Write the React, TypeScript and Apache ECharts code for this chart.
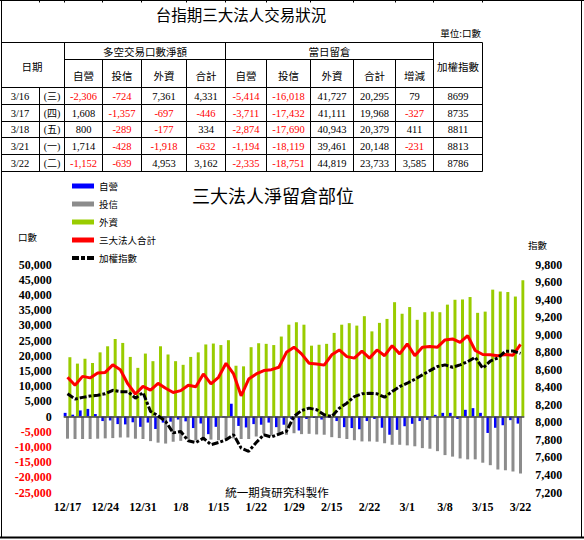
import React, { useEffect, useRef } from "react";
import * as echarts from "echarts";

// ---------- chart data (net open interest, 口數) ----------
const categories = [
  "12/17", "12/20", "12/21", "12/22", "12/23", "12/24", "12/27", "12/28", "12/29", "12/30",
  "12/31", "1/4", "1/5", "1/6", "1/7", "1/8", "1/11", "1/12", "1/13", "1/14",
  "1/15", "1/18", "1/19", "1/20", "1/21", "1/22", "1/25", "1/26", "1/27", "1/28",
  "1/29", "2/9", "2/10", "2/11", "2/14", "2/15", "2/16", "2/17", "2/18", "2/21",
  "2/22", "2/23", "2/24", "2/25", "2/28", "3/1", "3/2", "3/3", "3/4", "3/7",
  "3/8", "3/9", "3/10", "3/11", "3/14", "3/15", "3/16", "3/17", "3/18", "3/21",
  "3/22",
];
const dealerOI = [
  1200, 600, 2000, 2500, 800, -1500, -1300, -2500, -2600, -1900,
  -3400, -2000, -4100, -2000, -1700, -1000, -1600, -3800, -2300, -5800,
  -3400, -300, 4200, -3100, -3600, -2500, -2700, -2000, -3500, -2700,
  -800, -4600, -800, -500, -1000, -500, -1500, -3500, -3800, -4200,
  -1500, -800, -3700, -6000, -4400, -3200, -2400, -1500, -1100, 550,
  1200, 1200, -800, 2200, 2750, 1200, -5414, -3711, -2874, -1194,
  -2335,
];
const trustOI = [
  -7300, -7400, -7400, -7400, -7300, -7200, -7100, -6900, -6900, -7300,
  -7400, -8100, -8600, -8900, -8300, -8000, -7500, -7800, -7900, -7600,
  -7800, -7500, -7200, -7400, -7400, -6600, -5500, -6200, -6200, -6000,
  -5500, -5800, -5700, -5900, -6000, -6800, -7100, -7400, -7800, -8200,
  -8200, -8300, -8800, -9300, -9300, -9500, -9800, -10400, -10600, -11400,
  -12700, -13200, -13800, -14100, -14100, -15200, -16018, -17432, -17690, -18119,
  -18751,
];
const foreignOI = [
  19500, 17400, 19000, 17600, 21100, 23100, 25500, 24200, 19600, 16000,
  20700, 18200, 23100, 20400, 18200, 17000, 19600, 21100, 23700, 24000,
  23500, 25100, 16700, 16500, 22800, 24100, 23900, 23500, 26300, 30200,
  31000, 30200, 23300, 23600, 23900, 27500, 30200, 30700, 29900, 33000,
  28000, 30800, 32100, 37600, 33800, 36000, 31800, 34300, 34500, 34300,
  36800, 38400, 38500, 39300, 34100, 34500, 41727, 41111, 40943, 39461,
  44819,
];
const totalOI = [
  12900, 10300, 13200, 12700, 14300, 14500, 17000, 15400, 10700, 7400,
  9900, 8700, 10900, 9300, 7900, 8500, 10300, 9800, 14000, 10700,
  12900, 17500, 14000, 6800, 12300, 14000, 15100, 15400, 16200, 21100,
  22800, 20600, 17500, 17300, 16900, 20300, 21900, 19700, 19200, 21500,
  19200, 21900, 20000, 23300, 20600, 23900, 20000, 22800, 23000, 22800,
  25200, 25500, 24400, 26600, 21700, 20400, 20295, 19968, 20379, 20148,
  23733,
];
const indexValues = [
  8325, 8265, 8285, 8300, 8310, 8325, 8365, 8350, 8350, 8275,
  8340, 8124, 8075, 8010, 7880, 7895, 7790, 7770, 7820, 7745,
  7770, 7802, 7859, 7707, 7670, 7770, 7859, 7832, 7866, 7897,
  8067, 8135, 8162, 8143, 8086, 8067, 8162, 8219, 8294, 8325,
  8332, 8325, 8287, 8351, 8408, 8446, 8492, 8541, 8590, 8636,
  8655, 8628, 8655, 8693, 8742, 8617, 8699, 8735, 8811, 8813,
  8786,
];

// ---------- table data ----------
const tableDates = ["3/16", "3/17", "3/18", "3/21", "3/22"];
const tableWeekdays = ["(三)", "(四)", "(五)", "(一)", "(二)"];
const tradeDealer = [-2306, 1608, 800, 1714, -1152];
const tradeTrust = [-724, -1357, -289, -428, -639];
const tradeForeign = [7361, -697, -177, -1918, 4953];
const tradeTotal = [4331, -446, 334, -632, 3162];
const oiDealer = [-5414, -3711, -2874, -1194, -2335];
const oiTrust = [-16018, -17432, -17690, -18119, -18751];
const oiForeign = [41727, 41111, 40943, 39461, 44819];
const oiTotal = [20295, 19968, 20379, 20148, 23733];
const oiChange = [79, -327, 411, -231, 3585];
const tableIndex = [8699, 8735, 8811, 8813, 8786];
const subHeaders = ["自營", "投信", "外資", "合計", "自營", "投信", "外資", "合計", "增減"];

const CJK = '"Noto Sans CJK TC", "Noto Sans CJK SC", sans-serif';
const SERIF = '"Liberation Serif", "Times New Roman", serif';

const fmt = (v: number) => v.toLocaleString("en-US");

function txt(x: number, y: number, text: string, fontSize: number, family: string, fill = "#000", align = "center", weight = "normal") {
  return {
    type: "text",
    x,
    y,
    silent: true,
    style: {
      text,
      fill,
      fontSize,
      fontFamily: family,
      fontWeight: weight,
      textAlign: align,
      textVerticalAlign: "middle",
      align,
      verticalAlign: "middle",
    },
  };
}
function ln(x1: number, y1: number, x2: number, y2: number, w = 1) {
  return {
    type: "line",
    silent: true,
    shape: { x1, y1, x2, y2 },
    style: { stroke: "#000", lineWidth: w },
  };
}

function buildGraphic() {
  const els: any[] = [];
  const colX = [0, 39.5, 64.5, 102.5, 141.5, 186.5, 225.5, 266.5, 310.5, 353.5, 395.5, 433.5, 482.5];
  const rowY = [87.5, 104.5, 121.5, 137.5, 154.5, 171.5];
  // outer frame
  els.push(ln(0, 0.5, 584, 0.5));
  els.push(ln(1.5, 0, 1.5, 538));
  els.push(ln(581.5, 0, 581.5, 538));
  els.push(ln(0, 537.5, 584, 537.5, 2));
  colX.slice(1).forEach((x) => els.push(ln(x, 0, x, 2.5)));
  // table horizontal lines
  els.push(ln(1.5, 42.5, 482.5, 42.5));
  els.push(ln(64.5, 59.5, 433.5, 59.5));
  rowY.forEach((y) => els.push(ln(1.5, y, 482.5, y)));
  // vertical lines
  els.push(ln(64.5, 42.5, 64.5, 171.5));
  els.push(ln(225.5, 42.5, 225.5, 171.5));
  els.push(ln(433.5, 42.5, 433.5, 171.5));
  els.push(ln(482.5, 42.5, 482.5, 171.5));
  els.push(ln(39.5, 87.5, 39.5, 171.5));
  [102.5, 141.5, 186.5, 266.5, 310.5, 353.5, 395.5].forEach((x) => els.push(ln(x, 59.5, x, 171.5)));

  // header texts
  els.push(txt(241, 14, "台指期三大法人交易狀況", 15.5, CJK));
  els.push(txt(481, 33, "單位:口數", 9.5, CJK, "#000", "right"));
  els.push(txt(145, 51.5, "多空交易口數淨額", 10.5, CJK));
  els.push(txt(329.5, 51.5, "當日留倉", 10.5, CJK));
  els.push(txt(32, 66, "日期", 10.5, CJK));
  els.push(txt(458, 66, "加權指數", 10.5, CJK));
  subHeaders.forEach((h, i) => {
    const cx = (colX[i + 2] + colX[i + 3]) / 2;
    els.push(txt(cx, 75.5, h, 10.5, CJK));
  });

  // data rows
  const cols = [tradeDealer, tradeTrust, tradeForeign, tradeTotal, oiDealer, oiTrust, oiForeign, oiTotal, oiChange];
  tableDates.forEach((d, r) => {
    const cy = (rowY[r] + rowY[r + 1]) / 2;
    els.push(txt(20, cy, d, 10.5, SERIF));
    els.push(txt(52, cy, tableWeekdays[r], 10, `${SERIF}, ${CJK}`));
    cols.forEach((col, c) => {
      const v = col[r];
      const cx = (colX[c + 2] + colX[c + 3]) / 2;
      els.push(txt(cx, cy, fmt(v), 10.5, SERIF, v < 0 ? "#ff0000" : "#000"));
    });
    els.push(txt(458, cy, String(tableIndex[r]), 10.5, SERIF));
  });

  // chart texts
  els.push(txt(273, 195, "三大法人淨留倉部位", 18, CJK));
  els.push(txt(27.5, 237, "口數", 9.5, CJK));
  els.push(txt(537.5, 245, "指數", 9.5, CJK));
  els.push(txt(277, 492, "統一期貨研究科製作", 11.5, CJK));
  return els;
}

export default function App() {
  const ref = useRef<HTMLDivElement>(null);
  useEffect(() => {
    document.body.style.margin = "0";
    if (!ref.current) return;
    const chart = echarts.init(ref.current, undefined, { renderer: "svg" });
    const axisFont = { fontWeight: "bold", fontSize: 12, fontFamily: SERIF };
    chart.setOption({
      animation: false,
      backgroundColor: "#fff",
      graphic: { elements: buildGraphic() },
      legend: {
        orient: "vertical",
        left: 72,
        top: 180,
        padding: 0,
        itemWidth: 22,
        itemHeight: 5,
        itemGap: 6,
        textStyle: { fontSize: 9.5, fontFamily: CJK, color: "#000", lineHeight: 12 },
        data: [
          { name: "自營", icon: "rect" },
          { name: "投信", icon: "rect" },
          { name: "外資", icon: "rect" },
          { name: "三大法人合計", icon: "rect" },
          { name: "加權指數", icon: "path://M0,0H7V4H0ZM9,0H13V4H9ZM15,0H22V4H15Z" },
        ],
      },
      grid: { left: 63.7, right: 59.7, top: 264.5, bottom: 47.5 },
      xAxis: {
        type: "category",
        data: categories,
        axisLine: { show: false },
        axisTick: { show: false },
        axisLabel: { interval: 4, margin: 8, color: "#000", ...axisFont },
        splitLine: { show: false },
      },
      yAxis: [
        {
          type: "value",
          min: -25000,
          max: 50000,
          interval: 5000,
          axisLine: { show: false },
          axisTick: { show: false },
          splitLine: { show: false },
          axisLabel: {
            margin: 12,
            ...axisFont,
            formatter: (v: number) => fmt(v),
            color: (v: any) => (Number(v) < 0 ? "#ff0000" : "#000"),
          },
        },
        {
          type: "value",
          position: "right",
          min: 7200,
          max: 9800,
          interval: 200,
          axisLine: { show: false },
          axisTick: { show: false },
          splitLine: { show: false },
          axisLabel: { margin: 11, color: "#000", ...axisFont, formatter: (v: number) => fmt(v) },
        },
      ],
      series: [
        {
          name: "自營",
          type: "bar",
          data: dealerOI,
          barWidth: 3,
          barGap: "-20%",
          color: "#0000ff",
          markLine: {
            silent: true,
            symbol: ["none", "none"],
            label: { show: false },
            lineStyle: { color: "#404040", width: 1.5, type: "solid" },
            data: [{ yAxis: 0 }],
          },
        },
        { name: "投信", type: "bar", data: trustOI, barWidth: 3, barGap: "-20%", color: "#8c8c8c" },
        { name: "外資", type: "bar", data: foreignOI, barWidth: 3, barGap: "-20%", color: "#99cc00" },
        {
          name: "三大法人合計",
          type: "line",
          data: totalOI,
          symbol: "none",
          color: "#ff0000",
          lineStyle: { color: "#ff0000", width: 3 },
          z: 5,
        },
        {
          name: "加權指數",
          type: "line",
          yAxisIndex: 1,
          data: indexValues,
          symbol: "none",
          color: "#000",
          lineStyle: { color: "#000", width: 3, type: [7, 2, 3, 2] },
          z: 6,
        },
      ],
    });
    return () => chart.dispose();
  }, []);
  return <div ref={ref} style={{ width: 584, height: 540 }} />;
}
